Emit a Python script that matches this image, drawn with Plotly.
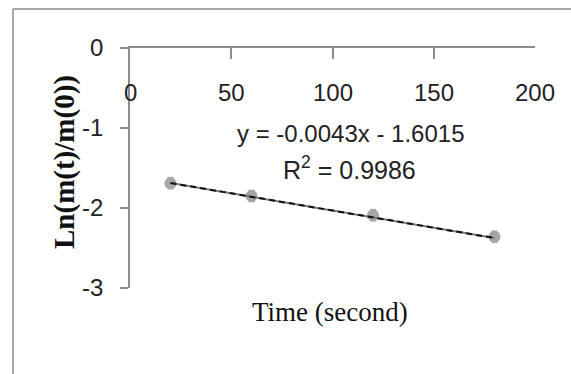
import plotly.graph_objects as go

# Data
time_s = [20, 60, 120, 180]
ln_ratio = [-1.69, -1.85, -2.09, -2.36]
err = [0.08, 0.08, 0.08, 0.08]
x_ticks = [0, 50, 100, 150, 200]
y_ticks = [0, -1, -2, -3]
slope = -0.0043
intercept = -1.6015
r2 = 0.9986

trend_x = [min(time_s), max(time_s)]
trend_y = [slope * v + intercept for v in trend_x]

fig = go.Figure()
fig.add_trace(go.Scatter(
    x=time_s, y=ln_ratio, mode="markers",
    marker=dict(size=12, color="#a6a6a6", line=dict(width=0)),
    error_y=dict(type="data", array=err, color="#b0b0b0", thickness=6, width=0),
    showlegend=False,
))
fig.add_trace(go.Scatter(
    x=trend_x, y=trend_y, mode="lines",
    line=dict(color="#777777", width=2),
    showlegend=False,
))
fig.add_trace(go.Scatter(
    x=trend_x, y=trend_y, mode="lines",
    line=dict(color="#111111", width=2, dash="6px,4px"),
    showlegend=False,
))

sans = "Liberation Sans, Arial, sans-serif"
serif = "Liberation Serif, Times New Roman, serif"

fig.update_layout(
    width=571, height=374,
    margin=dict(l=130, r=36, t=48, b=86),
    paper_bgcolor="white", plot_bgcolor="white",
    xaxis=dict(
        range=[0, 200], side="top", showgrid=False, zeroline=False,
        showline=True, linecolor="#8c8c8c", linewidth=1.5,
        ticks="inside", ticklen=11, tickcolor="#8c8c8c", tickwidth=1.5,
        tickvals=x_ticks, showticklabels=False,
    ),
    yaxis=dict(
        range=[-3, 0], showgrid=False, zeroline=False,
        showline=True, linecolor="#8c8c8c", linewidth=1.5,
        ticks="outside", ticklen=8, tickcolor="#8c8c8c", tickwidth=1.5,
        tickvals=y_ticks, ticktext=[str(v) for v in y_ticks],
        ticklabelstandoff=12,
        tickfont=dict(family=sans, size=24, color="#222"),
    ),
    font=dict(family=sans, color="#222"),
)

def note(x, y, text, font, xref="paper", yref="paper", angle=0):
    fig.add_annotation(x=x, y=y, xref=xref, yref=yref, text=text, showarrow=False,
                       xanchor="center", yanchor="middle", textangle=angle, font=font)

# x tick labels sit below the top axis line
for v in x_ticks:
    note(v, -0.55, str(v), dict(family=sans, size=24, color="#222"), xref="x", yref="y")

note((350 - 130) / 405, (288 - 133) / 240, f"y = {slope}x - {abs(intercept)}",
     dict(family=sans, size=24, color="#222"))
note((349 - 130) / 405, (288 - 168) / 240, f"R<sup>2</sup> = {r2}",
     dict(family=sans, size=25, color="#222"))
note((330 - 130) / 405, (288 - 312) / 240, "Time (second)",
     dict(family=serif, size=27, color="#111"))
note((64 - 130) / 405, (288 - 162) / 240, "<b>Ln(m(t)/m(0))</b>",
     dict(family=serif, size=29, color="#111"), angle=-90)

# outer chart border (top and left)
fig.add_shape(type="line", xref="paper", yref="paper",
              x0=(13 - 130) / 405, x1=(571 - 130) / 405,
              y0=(288 - 9) / 240, y1=(288 - 9) / 240,
              line=dict(color="#8c8c8c", width=1.5))
fig.add_shape(type="line", xref="paper", yref="paper",
              x0=(13 - 130) / 405, x1=(13 - 130) / 405,
              y0=(288 - 9) / 240, y1=(288 - 380) / 240,
              line=dict(color="#8c8c8c", width=1.5))

fig.write_html("out.html")
